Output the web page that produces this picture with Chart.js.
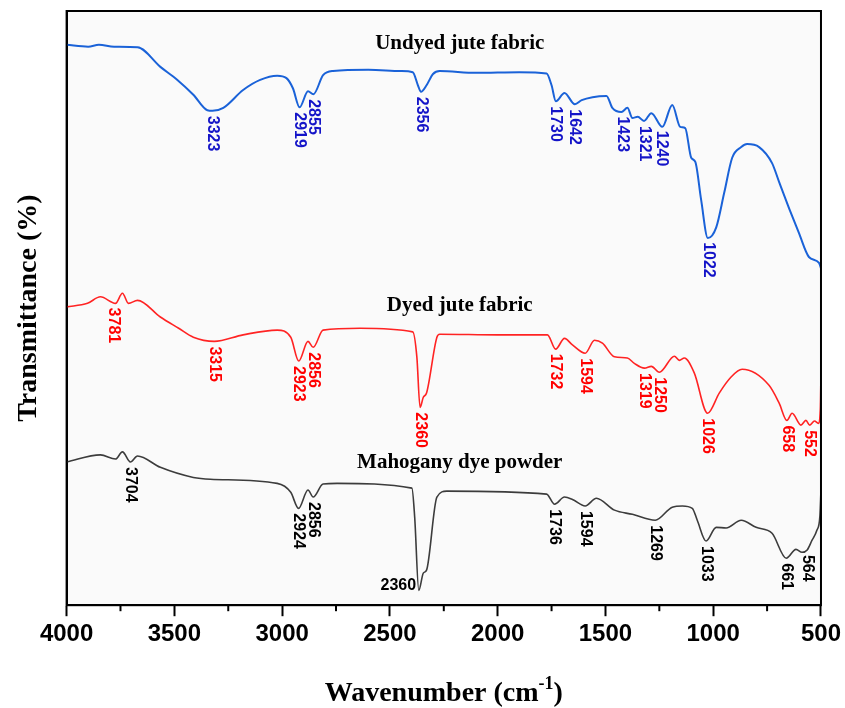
<!DOCTYPE html>
<html>
<head>
<meta charset="utf-8">
<script src="https://cdn.jsdelivr.net/npm/chart.js@4"></script>
<style>
  html, body { margin: 0; padding: 0; background: #fff; }
  #wrap { width: 845px; height: 708px; }
</style>
</head>
<body>
<div id="wrap"><canvas id="chart" width="845" height="708"></canvas></div>
<script>
// FTIR spectra (arbitrary transmittance units, curves stacked)
const undyedWn = [4000,3900,3850,3780,3671,3565,3486,3412,3347,3323,3273,3181,3102,3023,2980,2950,2919,2880,2855,2810,2764,2600,2450,2394,2370,2356,2330,2300,2269,2100,1900,1773,1750,1730,1690,1642,1610,1560,1495,1468,1426,1398,1375,1350,1321,1287,1236,1190,1153,1130,1102,1083,1056,1025,986,949,912,870,843,787,727,694,648,602,556,509,500];
const undyedT  = [94.3,94.0,94.3,94.0,93.9,90.6,88.4,85.9,83.3,83.2,83.7,86.7,88.4,89.1,88.7,87.0,83.8,86.5,86.0,89.2,89.9,90.1,89.9,89.7,87.5,86.4,87.5,89.4,89.9,89.6,89.7,89.5,87.5,84.8,86.2,84.3,85.0,85.5,85.7,83.7,83.0,83.7,82.0,82.2,81.5,82.8,80.5,84.2,80.5,80.3,75.3,74.6,68.2,61.8,63.6,69.4,75.3,77.1,77.6,77.1,74.4,71.2,66.8,62.6,58.6,57.6,56.7];

const dyedWn = [4000,3903,3843,3773,3741,3713,3671,3565,3480,3412,3315,3181,3023,2960,2923,2880,2856,2810,2639,2394,2375,2360,2345,2330,2282,2269,2000,1769,1731,1690,1653,1594,1551,1514,1458,1398,1366,1319,1287,1250,1180,1157,1134,1088,1026,972,917,866,741,694,658,634,593,570,552,530,512,503,500];
const dyedT  = [50.2,50.8,51.9,50.8,52.5,50.8,51.3,48.5,46.6,45.1,44.4,45.5,46.3,45.1,41.1,44.4,43.4,46.3,46.6,46.0,41.8,33.3,35.0,35.7,45.1,45.6,45.5,45.5,43.1,44.9,43.8,42.4,44.6,44.1,41.8,41.6,40.7,39.9,40.2,39.2,41.9,41.2,41.6,39.1,32.3,35.7,38.4,39.7,37.0,34.0,31.1,32.3,30.3,31.1,30.3,31.0,30.6,33.0,39.1];

const mahoganyWn = [4000,3843,3773,3741,3704,3671,3565,3412,3333,3023,2960,2924,2880,2856,2810,2745,2398,2385,2366,2345,2330,2282,2236,1773,1736,1690,1653,1594,1542,1458,1375,1269,1190,1143,1097,1074,1033,986,940,870,801,727,661,616,588,564,542,519,505,500];
const mahoganyT  = [24.1,25.3,24.6,25.8,24.1,25.1,23.2,21.5,21.2,20.5,19.0,16.3,19.4,18.2,20.4,20.5,19.7,14.8,2.5,5.4,5.9,18.2,19.2,18.7,17.0,18.2,17.8,16.7,18.0,16.0,15.3,14.3,16.5,16.7,16.3,14.3,10.8,13.1,13.0,14.3,13.1,12.1,7.9,9.4,8.9,9.3,10.9,12.6,15.0,19.4];

// labelled peaks
const undyedPeaks = [3323,2919,2855,2356,1730,1642,1423,1321,1240,1022];
const dyedPeaks = [3781,3315,2923,2856,2360,1732,1594,1319,1250,1026,658,552];
const mahoganyPeaks = [3704,2924,2856,2360,1736,1594,1269,1033,661,564];

const seriesNames = ['Undyed jute fabric', 'Dyed jute fabric', 'Mahogany dye powder'];
const xTicks = [4000,3500,3000,2500,2000,1500,1000,500];

const lineColors = ['#1a62d8', '#ff2323', '#3c3c3c'];
const labelColors = ['#1414c8', '#ff0000', '#000000'];

const series = [
  { wn: undyedWn, t: undyedT, peaks: undyedPeaks },
  { wn: dyedWn, t: dyedT, peaks: dyedPeaks },
  { wn: mahoganyWn, t: mahoganyT, peaks: mahoganyPeaks }
];

function curveAt(wns, vals, wn) {
  for (let i = 0; i < wns.length - 1; i++) {
    if (wn <= wns[i] && wn >= wns[i + 1]) {
      const f = (wns[i] - wn) / (wns[i] - wns[i + 1]);
      return vals[i] + f * (vals[i + 1] - vals[i]);
    }
  }
  return vals[vals.length - 1];
}

const decorations = {
  id: 'decorations',
  beforeDraw(chart) {
    const { ctx, chartArea: a } = chart;
    ctx.save();
    ctx.fillStyle = '#fafafa';
    ctx.fillRect(a.left, a.top, a.right - a.left, a.bottom - a.top);
    ctx.restore();
  },
  afterDatasetsDraw(chart) {
    const { ctx, chartArea: a } = chart;
    const x = chart.scales.x, y = chart.scales.y;
    ctx.save();

    // frame + minor ticks
    ctx.strokeStyle = '#000';
    ctx.lineWidth = 2;
    ctx.strokeRect(a.left, a.top, a.right - a.left, a.bottom - a.top);
    for (let wn = 3750; wn > 500; wn -= 500) {
      const px = x.getPixelForValue(wn);
      ctx.beginPath();
      ctx.moveTo(px, a.bottom);
      ctx.lineTo(px, a.bottom + 6);
      ctx.stroke();
    }

    // peak labels
    ctx.font = 'bold 16px "Liberation Sans", Arial, sans-serif';
    series.forEach((s, k) => {
      ctx.fillStyle = labelColors[k];
      s.peaks.forEach(wn => {
        const txt = String(wn);
        const px = Math.min(x.getPixelForValue(wn), a.right - 10);
        const cy = y.getPixelForValue(curveAt(s.wn, s.t, wn));
        const w = ctx.measureText(txt).width;
        if (cy + 5 + w > a.bottom) {
          ctx.textAlign = 'right';
          ctx.textBaseline = 'middle';
          ctx.fillText(txt, px - 4, cy);
        } else {
          ctx.save();
          ctx.translate(px, cy + 5);
          ctx.rotate(Math.PI / 2);
          ctx.textAlign = 'left';
          ctx.textBaseline = 'middle';
          ctx.fillText(txt, 0, 0);
          ctx.restore();
        }
      });
    });

    // series names above each curve
    ctx.font = 'bold 21px "Liberation Serif", "Times New Roman", serif';
    ctx.fillStyle = '#000';
    ctx.textAlign = 'center';
    ctx.textBaseline = 'alphabetic';
    const nameWn = 2176;
    series.forEach((s, k) => {
      const cy = y.getPixelForValue(curveAt(s.wn, s.t, nameWn));
      ctx.fillText(seriesNames[k], x.getPixelForValue(nameWn), cy - 23);
    });

    // x axis title with superscript
    const big = 'bold 28px "Liberation Serif", "Times New Roman", serif';
    const small = 'bold 18px "Liberation Serif", "Times New Roman", serif';
    const p1 = 'Wavenumber (cm', p2 = '-1', p3 = ')';
    ctx.font = big; const w1 = ctx.measureText(p1).width, w3 = ctx.measureText(p3).width;
    ctx.font = small; const w2 = ctx.measureText(p2).width;
    const cx = (a.left + a.right) / 2;
    let sx = cx - (w1 + w2 + w3) / 2;
    const base = 701;
    ctx.textAlign = 'left';
    ctx.font = big; ctx.fillText(p1, sx, base); sx += w1;
    ctx.font = small; ctx.fillText(p2, sx, base - 12); sx += w2;
    ctx.font = big; ctx.fillText(p3, sx, base);

    ctx.restore();
  }
};

new Chart(document.getElementById('chart').getContext('2d'), {
  type: 'line',
  data: {
    datasets: series.map((s, k) => ({
      label: seriesNames[k],
      data: s.wn.map((w, i) => ({ x: w, y: s.t[i] })),
      borderColor: lineColors[k],
      borderWidth: k === 0 ? 2 : 1.6,
      pointRadius: 0,
      fill: false,
      cubicInterpolationMode: 'monotone'
    }))
  },
  options: {
    responsive: false,
    animation: false,
    devicePixelRatio: 1,
    layout: { padding: { top: 11, right: 23, left: 8, bottom: 55 } },
    plugins: { legend: { display: false }, tooltip: { enabled: false } },
    scales: {
      x: {
        type: 'linear',
        reverse: true,
        min: 500,
        max: 4000,
        afterBuildTicks: axis => { axis.ticks = xTicks.map(v => ({ value: v })); },
        ticks: {
          color: '#000',
          padding: 4,
          maxRotation: 0,
          callback: v => String(v),
          font: { family: '"Liberation Sans", Arial, sans-serif', size: 24, weight: 'bold' }
        },
        grid: { drawOnChartArea: false, tickLength: 11, tickWidth: 2, tickColor: '#000' },
        border: { color: '#000', width: 2 }
      },
      y: {
        min: 0,
        max: 100,
        ticks: { display: false },
        grid: { display: false, drawTicks: false },
        border: { color: '#000', width: 2 },
        title: {
          display: true,
          text: 'Transmittance (%)',
          color: '#000',
          padding: { top: 4, bottom: 21 },
          font: { family: '"Liberation Serif", "Times New Roman", serif', size: 28, weight: 'bold' }
        }
      }
    }
  },
  plugins: [decorations]
});
</script>
</body>
</html>
